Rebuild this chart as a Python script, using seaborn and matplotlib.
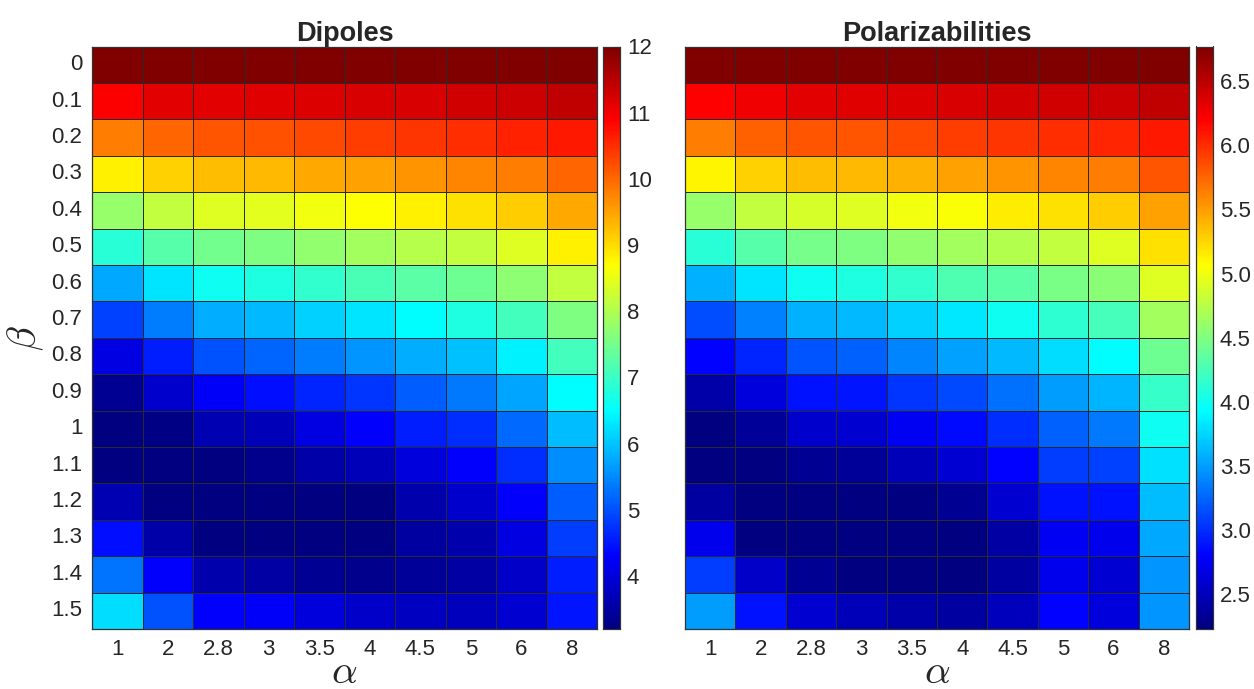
import numpy as np
import pandas as pd
import matplotlib
matplotlib.use("Agg")
import matplotlib.pyplot as plt
from matplotlib.colors import LinearSegmentedColormap
import seaborn as sns

# Grid of model parameters
alpha_labels = ["1", "2", "2.8", "3", "3.5", "4", "4.5", "5", "6", "8"]
beta_labels = ["0", "0.1", "0.2", "0.3", "0.4", "0.5", "0.6", "0.7",
               "0.8", "0.9", "1", "1.1", "1.2", "1.3", "1.4", "1.5"]

# Dipole errors, one row per beta
dipoles = [
    [12.0, 12.0, 12.0, 12.0, 12.0, 12.0, 12.0, 12.0, 12.0, 12.0],
    [10.90, 11.12, 11.13, 11.16, 11.18, 11.22, 11.24, 11.29, 11.33, 11.42],
    [9.82, 10.04, 10.17, 10.19, 10.28, 10.36, 10.42, 10.51, 10.60, 10.68],
    [8.83, 9.09, 9.26, 9.31, 9.43, 9.52, 9.61, 9.74, 9.82, 10.04],
    [7.79, 8.18, 8.40, 8.45, 8.57, 8.70, 8.83, 8.96, 9.13, 9.43],
    [6.85, 7.23, 7.49, 7.58, 7.75, 7.88, 8.05, 8.18, 8.40, 8.83],
    [5.77, 6.28, 6.63, 6.76, 6.93, 7.15, 7.27, 7.45, 7.71, 8.18],
    [4.86, 5.38, 5.81, 5.90, 6.11, 6.28, 6.50, 6.76, 7.06, 7.58],
    [4.08, 4.56, 4.99, 5.16, 5.38, 5.60, 5.81, 5.98, 6.37, 7.06],
    [3.39, 3.87, 4.26, 4.43, 4.64, 4.78, 5.12, 5.34, 5.72, 6.50],
    [3.21, 3.26, 3.65, 3.69, 4.04, 4.30, 4.56, 4.69, 5.21, 5.94],
    [3.22, 3.20, 3.21, 3.31, 3.57, 3.69, 4.00, 4.30, 4.69, 5.51],
    [3.65, 3.20, 3.20, 3.20, 3.21, 3.21, 3.61, 3.87, 4.30, 5.12],
    [4.43, 3.57, 3.20, 3.21, 3.20, 3.21, 3.48, 3.61, 4.04, 4.82],
    [5.30, 4.30, 3.61, 3.53, 3.39, 3.31, 3.44, 3.53, 3.83, 4.56],
    [6.20, 4.99, 4.30, 4.26, 4.00, 3.83, 3.78, 3.74, 3.91, 4.48],
]

# Polarizability errors, one row per beta
polarizabilities = [
    [6.77, 6.77, 6.77, 6.77, 6.77, 6.77, 6.77, 6.77, 6.77, 6.77],
    [6.20, 6.27, 6.31, 6.34, 6.35, 6.37, 6.38, 6.41, 6.43, 6.47],
    [5.65, 5.76, 5.83, 5.83, 5.88, 5.93, 5.96, 6.00, 6.03, 6.09],
    [5.11, 5.27, 5.36, 5.38, 5.42, 5.49, 5.54, 5.60, 5.65, 5.83],
    [4.60, 4.80, 4.89, 4.91, 5.00, 5.04, 5.14, 5.20, 5.29, 5.49],
    [4.11, 4.31, 4.45, 4.49, 4.58, 4.65, 4.73, 4.80, 4.91, 5.20],
    [3.58, 3.82, 4.00, 4.06, 4.15, 4.27, 4.33, 4.47, 4.55, 4.91],
    [3.15, 3.37, 3.58, 3.62, 3.73, 3.84, 4.00, 4.13, 4.25, 4.65],
    [2.80, 2.97, 3.17, 3.24, 3.40, 3.51, 3.62, 3.78, 3.93, 4.42],
    [2.42, 2.64, 2.87, 2.89, 3.04, 3.13, 3.31, 3.49, 3.60, 4.18],
    [2.23, 2.35, 2.57, 2.60, 2.75, 2.84, 3.00, 3.24, 3.33, 4.00],
    [2.23, 2.23, 2.33, 2.35, 2.48, 2.62, 2.80, 3.07, 3.09, 3.80],
    [2.38, 2.23, 2.23, 2.23, 2.23, 2.33, 2.60, 2.87, 2.87, 3.64],
    [2.71, 2.24, 2.23, 2.23, 2.23, 2.23, 2.40, 2.75, 2.71, 3.55],
    [3.07, 2.55, 2.33, 2.23, 2.23, 2.23, 2.38, 2.71, 2.62, 3.47],
    [3.49, 2.87, 2.60, 2.48, 2.42, 2.38, 2.51, 2.80, 2.64, 3.47],
]

# Classic jet: navy -> blue -> cyan -> yellow -> red -> dark red
jet = LinearSegmentedColormap.from_list(
    "jet_classic",
    [(0.0, (0, 0, 0.5)), (0.125, (0, 0, 1)), (0.375, (0, 1, 1)),
     (0.625, (1, 1, 0)), (0.875, (1, 0, 0)), (1.0, (0.5, 0, 0))],
    N=256,
)

sns.set_theme(style="white")
plt.rcParams["font.family"] = ["Liberation Sans", "DejaVu Sans"]
plt.rcParams["mathtext.fontset"] = "cm"

fig = plt.figure(figsize=(12.54, 6.89), dpi=100)

W, H = 1254.0, 689.0
def box(x0, x1, y0, y1):
    return [x0 / W, 1 - y1 / H, (x1 - x0) / W, (y1 - y0) / H]

ax1 = fig.add_axes(box(92, 597, 46.5, 629))
cax1 = fig.add_axes(box(603, 620, 46.5, 629))
ax2 = fig.add_axes(box(685, 1189, 46.5, 629))
cax2 = fig.add_axes(box(1196, 1213, 46.5, 629))

text_color = "#262626"
panels = [
    (ax1, cax1, dipoles, "Dipoles", 3.2, 12.0, [4, 5, 6, 7, 8, 9, 10, 11, 12], "{:.0f}"),
    (ax2, cax2, polarizabilities, "Polarizabilities", 2.23, 6.77,
     [2.5, 3.0, 3.5, 4.0, 4.5, 5.0, 5.5, 6.0, 6.5], "{:.1f}"),
]

for i, (ax, cax, vals, title, vmin, vmax, cticks, fmt) in enumerate(panels):
    df = pd.DataFrame(vals, index=beta_labels, columns=alpha_labels)
    sns.heatmap(df, ax=ax, cbar_ax=cax, cmap=jet, vmin=vmin, vmax=vmax,
                linewidths=0.6, linecolor="#2a2a2a", square=False)
    ax.set_title(title, fontsize=19.5, fontweight="bold", color=text_color, pad=4)
    ax.set_xlabel(r"$\alpha$", fontsize=29, color=text_color, labelpad=-5)
    ax.tick_params(axis="both", length=0, labelsize=16, colors=text_color, pad=7)
    ax.set_xticklabels(alpha_labels, rotation=0)
    if i == 0:
        ax.set_yticklabels(beta_labels, rotation=0)
        ax.set_ylabel(r"$\beta$", fontsize=29, color=text_color, labelpad=4)
    else:
        ax.set_yticks([])
        ax.set_ylabel("")
    for s in ax.spines.values():
        s.set_visible(True)
        s.set_color("#333333")
        s.set_linewidth(0.9)

    cax.set_yticks(cticks)
    cax.set_yticklabels([fmt.format(t) for t in cticks])
    cax.tick_params(axis="y", direction="in", length=4, width=0.8,
                    labelsize=16, colors=text_color, pad=5)
    for s in cax.spines.values():
        s.set_visible(True)
        s.set_color("#333333")
        s.set_linewidth(0.8)

fig.savefig("out.png", dpi=100, facecolor="white")
